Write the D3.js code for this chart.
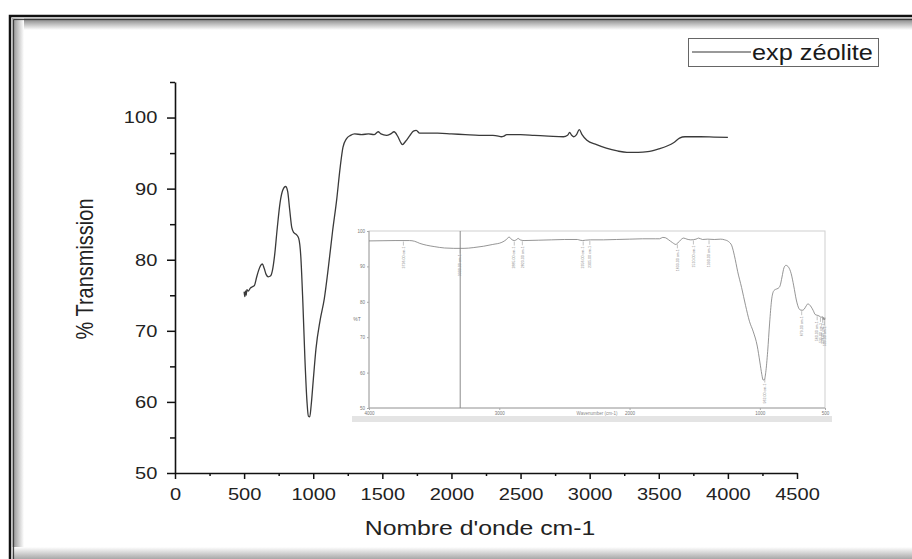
<!DOCTYPE html>
<html>
<head>
<meta charset="utf-8">
<script src="https://cdn.jsdelivr.net/npm/d3@7"></script>
<style>
  html, body { margin: 0; padding: 0; background: #fff; }
  #viz { width: 912px; height: 559px; }
  text { font-family: "Liberation Sans", Arial, sans-serif; }
</style>
</head>
<body>
<div id="viz"></div>
<script>
// FTIR spectrum of the zeolite
const wavenumbers = [
  500, 505, 510, 515, 520, 530, 545, 560, 575, 590, 605, 620, 632, 645, 660, 675, 690,
  705, 720, 740, 760, 780, 800, 815, 830, 845, 860, 880, 895, 910, 925, 940, 955, 965,
  975, 985, 1000, 1020, 1050, 1080, 1110, 1140, 1170, 1195, 1215, 1240, 1270, 1300,
  1350, 1400, 1440, 1470, 1490, 1530, 1560, 1585, 1610, 1630, 1645, 1670, 1700, 1725,
  1745, 1770, 1800, 1900, 2000, 2100, 2200, 2300, 2340, 2360, 2380, 2400, 2500, 2600,
  2700, 2810, 2840, 2855, 2870, 2885, 2905, 2925, 2945, 2980, 3050, 3120, 3200, 3270,
  3350, 3420, 3500, 3560, 3610, 3650, 3690, 3800, 3900, 4000
];
const transmission = [
  75.5, 74.8, 75.6, 75.0, 75.8, 75.6, 76.0, 76.2, 76.4, 77.5, 78.5, 79.2, 79.4, 78.8, 77.9, 77.6, 77.7,
  78.5, 80.5, 84.5, 88.0, 89.8, 90.3, 89.6, 87.0, 84.5, 83.8, 83.5, 83.0, 80.5, 74.0, 66.0, 60.0, 58.0,
  57.9, 59.5, 63.0, 67.5, 71.5, 74.5, 79.0, 84.0, 88.5, 93.0, 95.8, 97.0, 97.5, 97.7,
  97.6, 97.7, 97.6, 98.0, 97.7, 97.5, 97.7, 98.0, 97.4, 96.6, 96.2, 96.7, 97.5, 98.1,
  98.2, 97.8, 97.8, 97.8, 97.7, 97.6, 97.5, 97.5, 97.4, 97.3, 97.4, 97.6, 97.6, 97.5,
  97.4, 97.3, 97.5, 97.9, 97.5, 97.3, 97.6, 98.3, 97.6, 96.8, 96.2, 95.7, 95.3, 95.1,
  95.1, 95.2, 95.6, 96.0, 96.5, 97.1, 97.3, 97.3, 97.25, 97.2
];

const xTicks = [0, 500, 1000, 1500, 2000, 2500, 3000, 3500, 4000, 4500];
const xMinorTicks = [250, 750, 1250, 1750, 2250, 2750, 3250, 3750, 4250];
const yTicks = [50, 60, 70, 80, 90, 100];
const yMinorTicks = [55, 65, 75, 85, 95, 105];

const seriesName = "exp zéolite";
const xTitle = "Nombre d'onde cm-1";
const yTitle = "% Transmission";

// inset (instrument screenshot)
const insetXTicks = [4000, 3000, 2000, 1000, 500];
const insetYTicks = [50, 60, 70, 80, 90, 100];
const insetPeaks = [3736, 3300, 2885, 2823, 2356, 2305, 1633, 1510, 1390, 962, 679, 560, 535, 518, 505];
const insetCursor = 3300;

const data = wavenumbers.map((w, i) => ({ w, t: transmission[i] }));

const W = 912, H = 559;
const svg = d3.select("#viz").append("svg")
  .attr("width", W).attr("height", H)
  .attr("viewBox", `0 0 ${W} ${H}`);

const defs = svg.append("defs");
function grad(id, x1, y1, x2, y2, c1, c2) {
  const g = defs.append("linearGradient").attr("id", id)
    .attr("x1", x1).attr("y1", y1).attr("x2", x2).attr("y2", y2);
  g.append("stop").attr("offset", "0%").attr("stop-color", c1);
  g.append("stop").attr("offset", "100%").attr("stop-color", c2);
}
grad("gTop", 0, 0, 0, 1, "#7a7a7a", "#ffffff");
grad("gLeft", 0, 0, 1, 0, "#8a8a8a", "#ffffff");
grad("gBottom", 0, 0, 0, 1, "#ffffff", "#a8a8a8");

// frame with inner shadow
svg.append("rect").attr("x", 0).attr("y", 0).attr("width", W).attr("height", H).attr("fill", "#fff");
svg.append("rect").attr("x", 12).attr("y", 18).attr("width", W - 12).attr("height", 12).attr("fill", "url(#gTop)");
svg.append("rect").attr("x", 12).attr("y", 18).attr("width", 12).attr("height", H - 18).attr("fill", "url(#gLeft)");
svg.append("rect").attr("x", 12).attr("y", 547).attr("width", W - 12).attr("height", 12).attr("fill", "url(#gBottom)");
svg.append("path").attr("d", `M10,${H} V16 H${W}`).attr("fill", "none").attr("stroke", "#111").attr("stroke-width", 2.5);
svg.append("path").attr("d", `M12.6,${H} V18.6 H${W}`).attr("fill", "none").attr("stroke", "#bbb").attr("stroke-width", 0.8);
svg.append("path").attr("d", `M13.6,${H} V19.6 H${W}`).attr("fill", "none").attr("stroke", "#333").attr("stroke-width", 1);

// main scales
const x = d3.scaleLinear().domain([0, 4500]).range([175, 797]);
const y = d3.scaleLinear().domain([50, 105]).range([473, 82]);

// ---------- inset ----------
const xi = d3.scaleLinear().domain([4000, 500]).range([369, 825]);
const yi = d3.scaleLinear().domain([50, 100]).range([408, 231]);
const inset = svg.append("g").attr("class", "inset");

inset.append("rect").attr("x", 352).attr("y", 416).attr("width", 480).attr("height", 6).attr("fill", "#e4e4e4");
inset.append("rect")
  .attr("x", xi(4000)).attr("y", yi(100))
  .attr("width", xi(500) - xi(4000)).attr("height", yi(50) - yi(100))
  .attr("fill", "#fff").attr("stroke", "#cfcfcf").attr("stroke-width", 1);
inset.append("line")
  .attr("x1", xi(4000)).attr("x2", xi(4000)).attr("y1", yi(100)).attr("y2", yi(50))
  .attr("stroke", "#999").attr("stroke-width", 0.8);
inset.append("line")
  .attr("x1", xi(4000)).attr("x2", xi(500)).attr("y1", yi(50)).attr("y2", yi(50))
  .attr("stroke", "#999").attr("stroke-width", 0.8);

const ixAxis = inset.append("g").attr("transform", `translate(0,${yi(50)})`)
  .call(d3.axisBottom(xi).tickValues(insetXTicks).tickSize(2).tickPadding(2).tickFormat(d3.format("d")));
const iyAxis = inset.append("g").attr("transform", `translate(${xi(4000)},0)`)
  .call(d3.axisLeft(yi).tickValues(insetYTicks).tickSize(2).tickPadding(2));
[ixAxis, iyAxis].forEach(a => {
  a.select(".domain").remove();
  a.selectAll("line").attr("stroke", "#aaa");
  a.selectAll("text").attr("font-size", 4.5).attr("fill", "#777");
});

inset.append("text").attr("x", 357).attr("y", 321).attr("font-size", 5).attr("fill", "#777")
  .attr("text-anchor", "middle").text("%T");
inset.append("text").attr("x", 597).attr("y", 415).attr("font-size", 4.5).attr("fill", "#888")
  .attr("text-anchor", "middle").text("Wavenumber (cm-1)");

inset.append("line")
  .attr("x1", xi(insetCursor)).attr("x2", xi(insetCursor))
  .attr("y1", yi(100)).attr("y2", yi(50))
  .attr("stroke", "#8a8a8a").attr("stroke-width", 1);

inset.append("path").datum(data)
  .attr("fill", "none").attr("stroke", "#7a7a7a").attr("stroke-width", 0.8)
  .attr("d", d3.line().x(d => xi(d.w)).y(d => yi(d.t)).curve(d3.curveMonotoneX));

// peak annotations, value of the curve at each marked wavenumber
const bis = d3.bisector(d => d.w).left;
function tAt(w) {
  const i = Math.max(1, Math.min(data.length - 1, bis(data, w)));
  const a = data[i - 1], b = data[i];
  return a.t + (b.t - a.t) * (w - a.w) / (b.w - a.w);
}
const ann = inset.selectAll("g.peak").data(insetPeaks).join("g")
  .attr("class", "peak")
  .attr("transform", d => `translate(${xi(d)},${yi(tAt(d)) + 1})`);
ann.append("line").attr("y1", 0).attr("y2", 4).attr("stroke", "#999").attr("stroke-width", 0.6);
ann.append("text")
  .attr("transform", "translate(1.2,5) rotate(-90)")
  .attr("text-anchor", "end").attr("font-size", 3.6).attr("fill", "#888")
  .text(d => `${d.toFixed(2)} cm-1`);

// ---------- main axes ----------
const axisColor = "#111";
const xAxis = svg.append("g").attr("transform", `translate(0,${y(50)})`)
  .call(d3.axisBottom(x).tickValues(xTicks).tickSize(6).tickSizeOuter(0).tickPadding(9).tickFormat(d3.format("d")));
const xMinor = svg.append("g").attr("transform", `translate(0,${y(50)})`)
  .call(d3.axisBottom(x).tickValues(xMinorTicks).tickSize(3).tickSizeOuter(0).tickFormat(""));
const yAxis = svg.append("g").attr("transform", `translate(${x(0)},0)`)
  .call(d3.axisLeft(y).tickValues(yTicks).tickSize(8).tickSizeOuter(0).tickPadding(7));
const yMinor = svg.append("g").attr("transform", `translate(${x(0)},0)`)
  .call(d3.axisLeft(y).tickValues(yMinorTicks).tickSize(5).tickSizeOuter(0).tickFormat(""));

[xMinor, yMinor].forEach(a => a.select(".domain").remove());
[xAxis, xMinor, yAxis, yMinor].forEach(a => {
  a.selectAll(".domain").attr("stroke", axisColor).attr("stroke-width", 1.6);
  a.selectAll(".tick line").attr("stroke", axisColor).attr("stroke-width", 1.5);
});
[xAxis, yAxis].forEach(a => {
  a.selectAll(".tick text")
    .attr("font-size", 17).attr("fill", "#222")
    .attr("font-family", "Liberation Sans, Arial, sans-serif")
    .attr("transform", "scale(1.18,1)");
});

// main curve
svg.append("path").datum(data)
  .attr("fill", "none").attr("stroke", "#3a3a3a").attr("stroke-width", 1.3)
  .attr("stroke-linejoin", "round")
  .attr("d", d3.line().x(d => x(d.w)).y(d => y(d.t)).curve(d3.curveMonotoneX));

// titles
svg.append("text")
  .attr("transform", "translate(93,269) scale(1.18,1) rotate(-90)")
  .attr("text-anchor", "middle").attr("font-size", 20).attr("fill", "#222")
  .text(yTitle);
svg.append("text")
  .attr("transform", "translate(480,535) scale(1.18,1)")
  .attr("text-anchor", "middle").attr("font-size", 21).attr("fill", "#222")
  .text(xTitle);

// legend
const leg = svg.append("g");
leg.append("rect").attr("x", 688.5).attr("y", 38.5).attr("width", 190).attr("height", 28)
  .attr("fill", "#fff").attr("stroke", "#666").attr("stroke-width", 1);
leg.append("line").attr("x1", 692).attr("x2", 751).attr("y1", 52).attr("y2", 52)
  .attr("stroke", "#777").attr("stroke-width", 1.3);
leg.append("text").attr("transform", "translate(752,60) scale(1.15,1)")
  .attr("font-size", 22).attr("fill", "#1a1a1a").text(seriesName);
</script>
</body>
</html>
